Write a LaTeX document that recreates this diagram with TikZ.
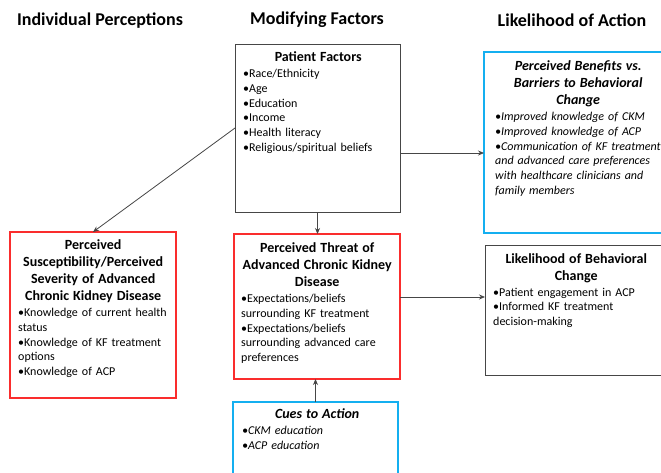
\documentclass[tikz,border=0pt]{standalone}
\usepackage{fontspec}
\setmainfont{Carlito}
\usetikzlibrary{arrows.meta,calc}
\definecolor{boxred}{RGB}{250,45,45}
\definecolor{boxblue}{RGB}{20,175,240}
\definecolor{boxgray}{RGB}{70,70,70}
\newcommand\ttl[1]{{\centering\fontsize{14}{17}\selectfont\bfseries #1\par}\vspace{1.5pt}}
\newcommand\nohyph{\hyphenpenalty=10000\relax\exhyphenpenalty=10000\relax}
\tikzset{
  box/.style={draw, inner sep=0pt, outer sep=0pt, anchor=north west},
  redbox/.style={box, draw=boxred, line width=1.6pt},
  bluebox/.style={box, draw=boxblue, line width=1.6pt},
  graybox/.style={box, draw=boxgray, line width=0.9pt},
  tx/.style={anchor=north west, inner sep=0pt, align=left, font=\fontsize{12}{14.7}\selectfont, execute at begin node=\nohyph},
  hdr/.style={font=\fontsize{18}{20}\selectfont\bfseries, inner sep=0pt},
  arr/.style={draw=boxgray, line width=0.8pt, -{Stealth[length=6pt,width=5pt]}}
}
\begin{document}
\begin{tikzpicture}[x=1pt,y=-1pt]
\clip (0,0) rectangle (661,472);
\fill[white] (0,0) rectangle (661,472);
% headers
\node[hdr] (h1) at (100,21) {Individual Perceptions};
\node[hdr] (h2) at (317,20) {Modifying Factors};
\node[hdr] (h3) at (572,20) {Likelihood of Action};
% boxes
\node[graybox, minimum width=165pt, minimum height=168pt] (pf) at (235,44) {};
\node[bluebox, minimum width=186pt, minimum height=181pt] (ben) at (484,52) {};
\node[redbox, minimum width=166pt, minimum height=166pt] (sus) at (10,232) {};
\node[redbox, minimum width=166pt, minimum height=145pt] (thr) at (234,234) {};
\node[graybox, minimum width=186pt, minimum height=130pt] (lik) at (485,245) {};
\node[bluebox, minimum width=165pt, minimum height=100pt] (cue) at (233,402) {};
% texts
\node[tx, text width=150pt] (pft) at ($(pf.north west)+(8,7.5)$) {\ttl{Patient Factors}%
•Race/Ethnicity\par •Age\par •Education\par •Income\par •Health literacy\par •Religious/spiritual beliefs};
\node[tx, text width=166pt] (bent) at ($(ben.north west)+(11,8.5)$) {\itshape\ttl{\itshape Perceived Benefits vs.\\ Barriers to Behavioral\\ Change}%
•Improved knowledge of CKM\par •Improved knowledge of ACP\par •Communication of KF treatment and advanced care preferences with healthcare clinicians and family members};
\node[tx, text width=150pt] (sust) at ($(sus.north west)+(8,7.5)$) {\ttl{Perceived\\ Susceptibility/Perceived\\ Severity of Advanced\\ Chronic Kidney Disease}%
•Knowledge of current health status\par •Knowledge of KF treatment options\par •Knowledge of ACP};
\node[tx, text width=152pt] (thrt) at ($(thr.north west)+(7,8.5)$) {\ttl{Perceived Threat of\\ Advanced Chronic Kidney\\ Disease}%
•Expectations/beliefs surrounding KF treatment\par •Expectations/beliefs surrounding advanced care preferences};
\node[tx, text width=166pt] (likt) at ($(lik.north west)+(8,8)$) {\ttl{Likelihood of Behavioral\\ Change}%
•Patient engagement in ACP\par •Informed KF treatment decision-making};
\node[tx, text width=150pt] (cuet) at ($(cue.north west)+(9,6.5)$) {\itshape\ttl{\itshape Cues to Action}%
•CKM education\par •ACP education};
% connectors
\coordinate (pfe) at ($(pf.north east)+(0,109)$);
\coordinate (thre) at ($(thr.north east)+(0,63)$);
\draw[arr] (pf.west) -- (sus.north);
\draw[arr] (pf.south) -- (pf.south |- thr.north);
\draw[arr] (pfe) -- (pfe -| ben.west);
\draw[arr] (thre) -- (thre -| lik.west);
\draw[arr] (cue.north) -- (cue.north |- thr.south);
\end{tikzpicture}
\end{document}
